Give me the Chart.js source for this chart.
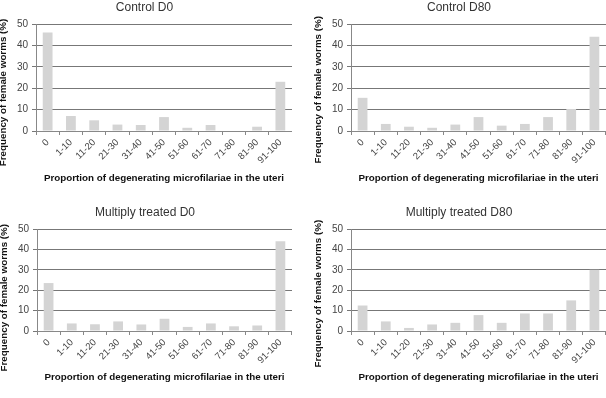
<!DOCTYPE html>
<html>
<head>
<meta charset="utf-8">
<script src="https://cdn.jsdelivr.net/npm/chart.js@4/dist/chart.umd.min.js"></script>
<style>
  html, body { margin: 0; padding: 0; background: #fff; }
  body { width: 606px; height: 398px; position: relative; overflow: hidden; }
  .panel { position: absolute; }
</style>
</head>
<body>
<div class="panel" id="p1" style="left:-12px; top:0; width:304px; height:199px;"><canvas></canvas></div>
<div class="panel" id="p2" style="left:303px; top:0; width:303px; height:199px;"><canvas></canvas></div>
<div class="panel" id="p3" style="left:-11px; top:205px; width:303px; height:193px;"><canvas></canvas></div>
<div class="panel" id="p4" style="left:303px; top:205px; width:303px; height:193px;"><canvas></canvas></div>
<script>
const categories = ['0', '1-10', '11-20', '21-30', '31-40', '41-50', '51-60', '61-70', '71-80', '81-90', '91-100'];
const controlD0 = [46, 7, 5, 3, 2.8, 6.5, 1.5, 2.8, 0, 2, 23];
const controlD80 = [15.5, 3.3, 2, 1.5, 3, 6.5, 2.5, 3.3, 6.5, 10.3, 44];
const treatedD0 = [23.5, 3.7, 3.3, 4.7, 3.2, 6, 2, 3.7, 2.3, 2.7, 44];
const treatedD80 = [12.5, 4.7, 1.5, 3.2, 4, 7.8, 4, 8.6, 8.6, 15, 30];
const titles = ['Control D0', 'Control D80', 'Multiply treated D0', 'Multiply treated D80'];
const yTicks = [0, 10, 20, 30, 40, 50];

Chart.defaults.font.family = '"Liberation Sans", Arial, sans-serif';
Chart.defaults.color = '#333';

// the y titles sit a little below the middle of the plot, as in the original;
// trailing spaces push the rotated text down
function makePanel(id, title, values, xHeight, yTitleShift) {
    const canvas = document.querySelector('#' + id + ' canvas');
    new Chart(canvas, {
        type: 'bar',
        data: {
            labels: categories,
            datasets: [{
                data: values,
                backgroundColor: '#d4d4d4',
                barPercentage: 0.42,
                categoryPercentage: 1,
            }],
        },
        options: {
            responsive: true,
            maintainAspectRatio: false,
            animation: false,
            events: [],
            layout: { padding: { left: 9, right: 0, top: 0, bottom: 15 } },
            plugins: {
                legend: { display: false },
                tooltip: { enabled: false },
                title: {
                    display: true,
                    text: title,
                    color: '#333',
                    font: { size: 12, weight: 'normal' },
                    padding: { top: 0, bottom: 9.6 },
                },
            },
            scales: {
                x: {
                    afterFit: (scale) => { scale.height = xHeight; },
                    grid: {
                        offset: true,
                        drawOnChartArea: false,
                        drawTicks: true,
                        tickLength: 4,
                        color: '#888',
                    },
                    border: { color: '#888' },
                    ticks: {
                        minRotation: 45,
                        maxRotation: 45,
                        padding: 2,
                        color: '#444',
                        font: { size: 9.5 },
                    },
                    title: {
                        display: true,
                        text: 'Proportion of degenerating microfilariae in the uteri',
                        color: '#111',
                        font: { size: 9.8, weight: 'bold' },
                        padding: 0,
                    },
                },
                y: {
                    min: 0,
                    max: 50,
                    afterFit: (scale) => { scale.width = 39; },
                    afterBuildTicks: (scale) => { scale.ticks = yTicks.map(v => ({ value: v })); },
                    grid: {
                        color: '#777',
                        lineWidth: 1,
                        drawTicks: true,
                        tickLength: 4,
                    },
                    border: { color: '#888' },
                    ticks: {
                        padding: 4,
                        color: '#444',
                        font: { size: 10 },
                    },
                    title: {
                        display: true,
                        text: 'Frequency of female worms (%)' + ' '.repeat(yTitleShift),
                        color: '#111',
                        font: { size: 9.8, weight: 'bold' },
                        padding: 0,
                    },
                },
            },
        },
    });
}

makePanel('p1', titles[0], controlD0, 53, 11);
makePanel('p2', titles[1], controlD80, 53, 9);
makePanel('p3', titles[2], treatedD0, 52, 13);
makePanel('p4', titles[3], treatedD80, 52, 10);
</script>
</body>
</html>
